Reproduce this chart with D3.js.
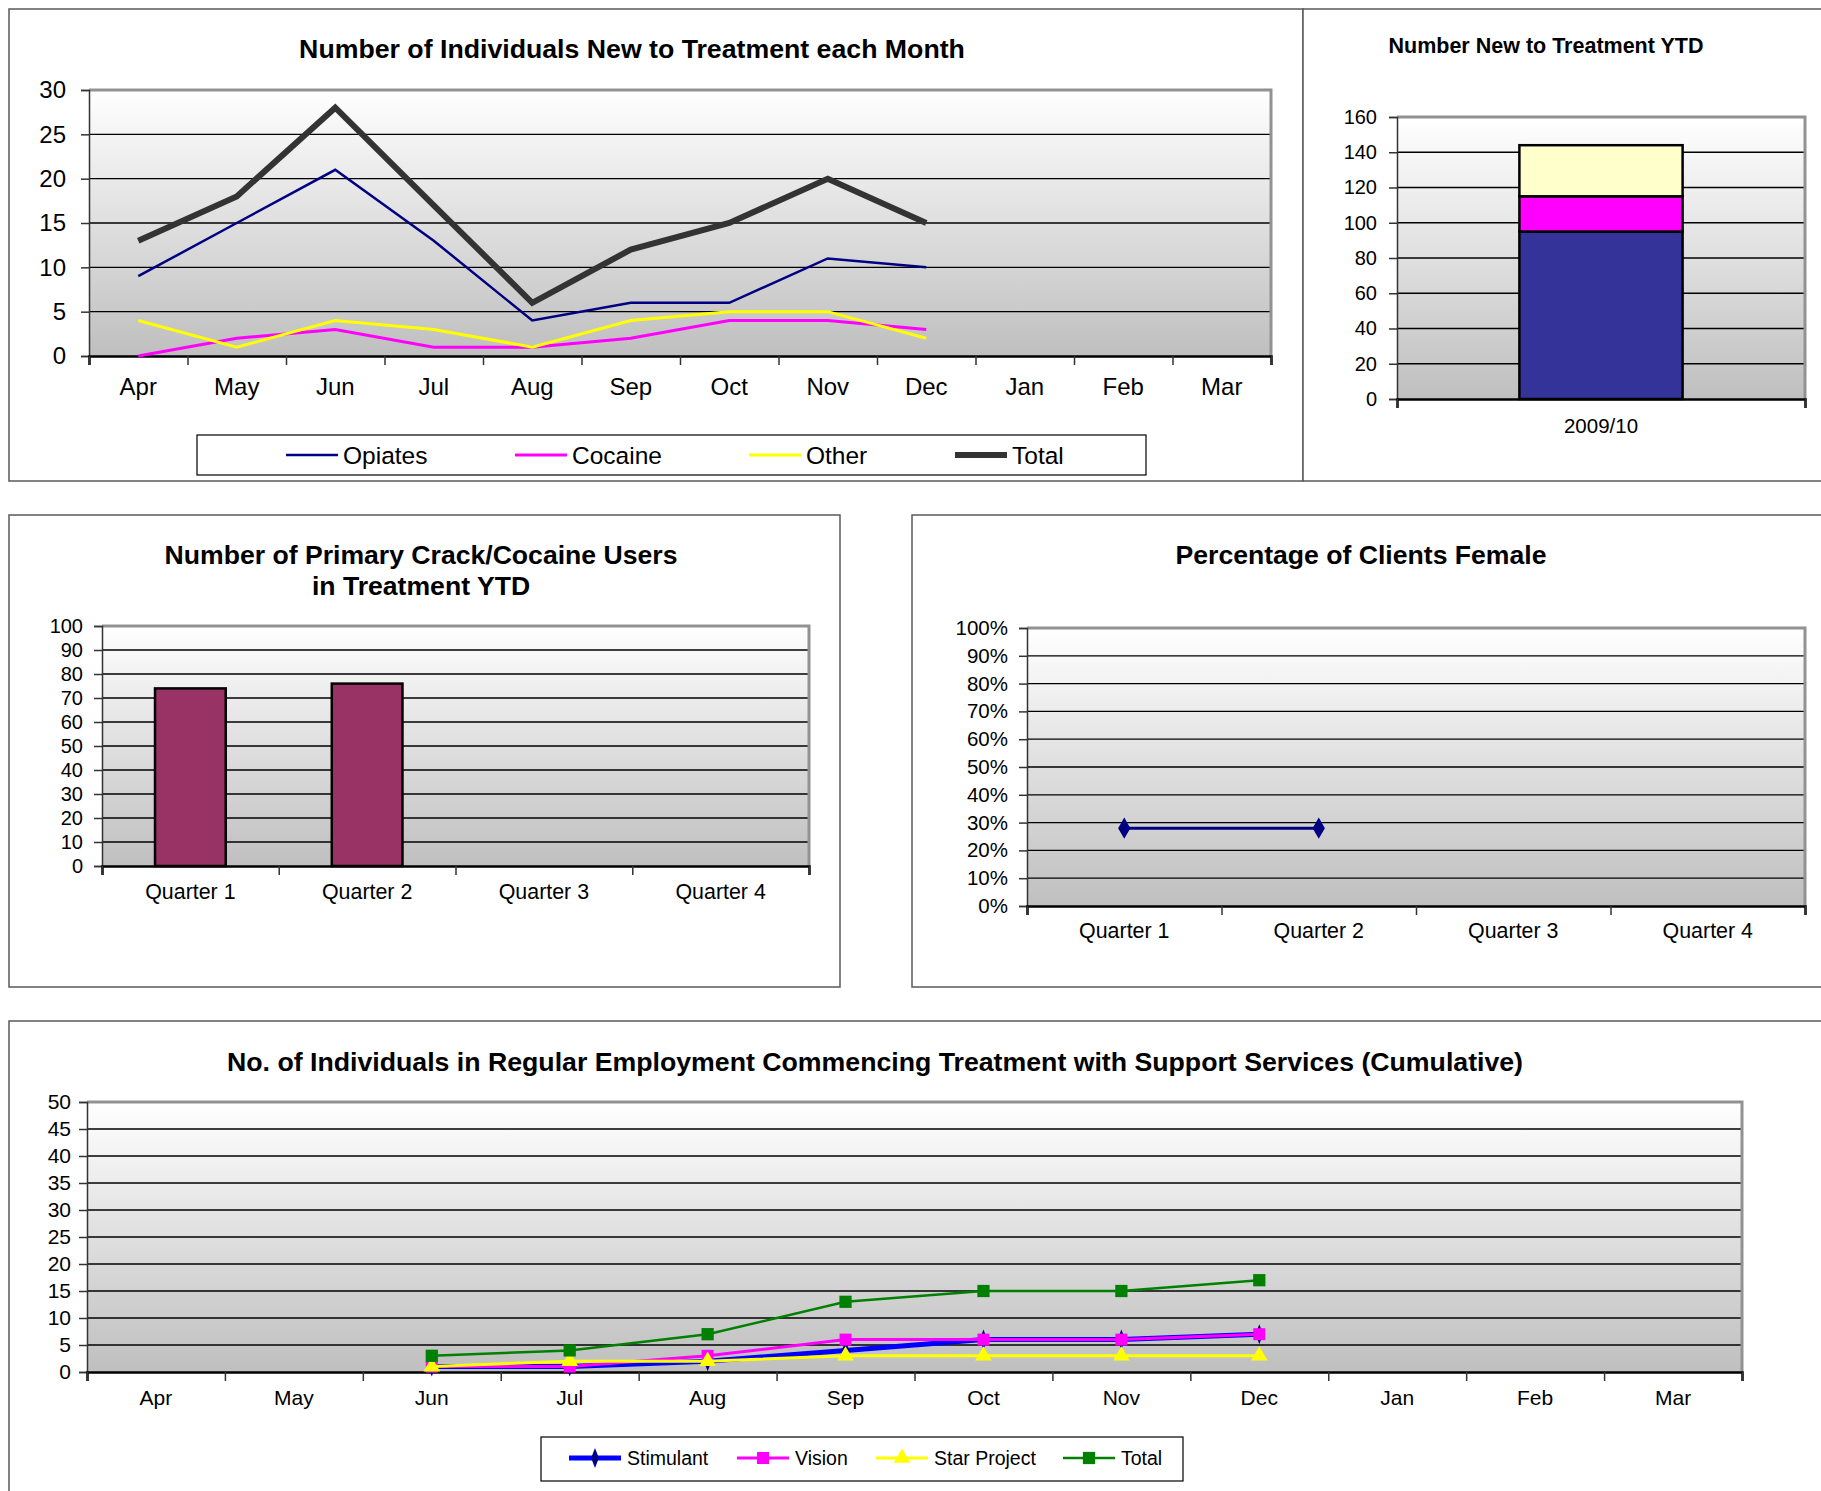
<!DOCTYPE html>
<html>
<head>
<meta charset="utf-8">
<script src="https://cdn.jsdelivr.net/npm/d3@7"></script>
<style>
  html, body { margin: 0; padding: 0; background: #ffffff; }
  svg { display: block; font-family: "Liberation Sans", Arial, sans-serif; }
</style>
</head>
<body>
<svg id="chart" width="1821" height="1491"></svg>
<script>
// ---------------- DATA ----------------
const months = ["Apr", "May", "Jun", "Jul", "Aug", "Sep", "Oct", "Nov", "Dec", "Jan", "Feb", "Mar"];
const opiates = [9, 15, 21, 13, 4, 6, 6, 11, 10];
const cocaine = [0, 2, 3, 1, 1, 2, 4, 4, 3];
const other   = [4, 1, 4, 3, 1, 4, 5, 5, 2];
const total   = [13, 18, 28, 17, 6, 12, 15, 20, 15];
const newTicks = [0, 5, 10, 15, 20, 25, 30];

const ytdCategories = ["2009/10"];
const ytdOpiates = [95];
const ytdCocaine = [20];
const ytdOther   = [29];
const ytdTicks = [0, 20, 40, 60, 80, 100, 120, 140, 160];

const quarters = ["Quarter 1", "Quarter 2", "Quarter 3", "Quarter 4"];
const crackUsers = [74, 76];
const crackTicks = [0, 10, 20, 30, 40, 50, 60, 70, 80, 90, 100];

const femalePct = [0.28, 0.28];
const pctTicks = [0, 0.1, 0.2, 0.3, 0.4, 0.5, 0.6, 0.7, 0.8, 0.9, 1.0];

const stimulant   = [null, null, 1, 1, 2, 4, 6, 6, 7];
const vision      = [null, null, 1, 1, 3, 6, 6, 6, 7];
const starProject = [null, null, 1, 2, 2, 3, 3, 3, 3];
const empTotal    = [null, null, 3, 4, 7, 13, 15, 15, 17];
const empTicks = [0, 5, 10, 15, 20, 25, 30, 35, 40, 45, 50];

// ---------------- HELPERS ----------------
const svg = d3.select("#chart");
const defs = svg.append("defs");
const grad = defs.append("linearGradient").attr("id", "plotGrad")
  .attr("x1", 0).attr("y1", 0).attr("x2", 0).attr("y2", 1);
grad.append("stop").attr("offset", "0%").attr("stop-color", "#ffffff");
grad.append("stop").attr("offset", "100%").attr("stop-color", "#bfbfbf");

function panel(x0, y0, x1, y1) {
  svg.append("rect").attr("x", x0).attr("y", y0).attr("width", x1 - x0).attr("height", y1 - y0)
    .attr("fill", "#ffffff").attr("stroke", "#5a5a5a").attr("stroke-width", 1.5);
}

function title(lines, cx, baseline, size, lh) {
  lines.forEach((t, i) => {
    svg.append("text").attr("x", cx).attr("y", baseline + i * (lh || 0))
      .attr("text-anchor", "middle").attr("font-weight", "bold")
      .attr("font-size", size).attr("fill", "#000").text(t);
  });
}

// plot area with gradient, gridlines, axes
function plotArea(opts) {
  const { x, y, ticks, fmt, fontY, fontX, padX, yPad } = opts;
  const [xa, xb] = x.range();
  const [yb, ya] = y.range();
  const g = svg.append("g");
  g.append("rect").attr("x", xa).attr("y", ya).attr("width", xb - xa).attr("height", yb - ya)
    .attr("fill", "url(#plotGrad)");
  g.selectAll("line.grid").data(ticks.slice(1, -1)).join("line")
    .attr("x1", xa).attr("x2", xb).attr("y1", d => y(d)).attr("y2", d => y(d))
    .attr("stroke", "#000").attr("stroke-width", 1.3);
  g.append("path").attr("d", `M${xa},${ya}H${xb}V${yb}`)
    .attr("fill", "none").attr("stroke", "#929292").attr("stroke-width", 3);
  const ay = g.append("g").attr("transform", `translate(${xa},0)`)
    .call(d3.axisLeft(y).tickValues(ticks).tickSize(8).tickPadding(yPad || 15)
      .tickFormat(fmt || d3.format("d")));
  ay.select(".domain").attr("stroke", "#333").attr("stroke-width", 1.5);
  ay.selectAll(".tick line").attr("stroke", "#333").attr("stroke-width", 1.5);
  ay.selectAll("text").attr("font-size", fontY).attr("fill", "#000")
    .attr("font-family", "Liberation Sans, Arial, sans-serif");
  const ax = g.append("g").attr("transform", `translate(0,${yb})`)
    .call(d3.axisBottom(x).tickSize(0).tickPadding(padX));
  ax.select(".domain").remove();
  ax.selectAll("text").attr("font-size", fontX).attr("fill", "#000")
    .attr("font-family", "Liberation Sans, Arial, sans-serif");
  const bounds = x.domain().map(d => x(d)).concat([xb]);
  const ab = g.append("g").attr("transform", `translate(0,${yb})`)
    .call(d3.axisBottom(d3.scaleLinear().domain([xa, xb]).range([xa, xb]))
      .tickValues(bounds).tickSize(9).tickFormat(""));
  ab.select(".domain").attr("stroke", "#000").attr("stroke-width", 2.5);
  ab.selectAll(".tick line").attr("stroke", "#333").attr("stroke-width", 1.5);
  return g;
}

function centerX(x) { return d => x(d) + x.bandwidth() / 2; }

// ---------------- PANEL 1 ----------------
panel(9, 9, 1303, 481);
panel(1303, 9, 1830, 481);
title(["Number of Individuals New to Treatment each Month"], 632, 58, 26.7);

{
  const x = d3.scaleBand().domain(months).range([89, 1271]);
  const y = d3.scaleLinear().domain([0, 30]).range([356, 90]);
  plotArea({ x, y, ticks: newTicks, fontY: 24, fontX: 24, padX: 22, yPad: 15 });
  const cx = centerX(x);
  const series = [
    { name: "Opiates", vals: opiates, color: "#000080", w: 2.5 },
    { name: "Cocaine", vals: cocaine, color: "#ff00ff", w: 3 },
    { name: "Other",   vals: other,   color: "#ffff00", w: 3 },
    { name: "Total",   vals: total,   color: "#333333", w: 6 }
  ];
  const line = d3.line().x((d, i) => cx(months[i])).y(d => y(d));
  series.forEach(s => {
    svg.append("path").datum(s.vals).attr("d", line).attr("fill", "none")
      .attr("stroke", s.color).attr("stroke-width", s.w).attr("stroke-linejoin", "miter");
  });
  svg.append("rect").attr("x", 197).attr("y", 435).attr("width", 949).attr("height", 40)
    .attr("fill", "#fff").attr("stroke", "#000").attr("stroke-width", 1.2);
  const lx = [286, 515, 749, 955];
  series.forEach((s, i) => {
    svg.append("line").attr("x1", lx[i]).attr("x2", lx[i] + 52).attr("y1", 455).attr("y2", 455)
      .attr("stroke", s.color).attr("stroke-width", s.w);
    svg.append("text").attr("x", lx[i] + 57).attr("y", 455).attr("dy", "0.35em")
      .attr("font-size", 24.5).attr("fill", "#000").text(s.name);
  });
}

// ---------------- PANEL 2 ----------------
title(["Number New to Treatment YTD"], 1546, 53, 21.5);
{
  const x = d3.scaleBand().domain(ytdCategories).range([1397, 1805]);
  const y = d3.scaleLinear().domain([0, 160]).range([399, 117]);
  plotArea({ x, y, ticks: ytdTicks, fontY: 20, fontX: 20.5, padX: 19, yPad: 12 });
  const stackData = ytdCategories.map((c, i) => ({ cat: c, Opiates: ytdOpiates[i], Cocaine: ytdCocaine[i], Other: ytdOther[i] }));
  const stack = d3.stack().keys(["Opiates", "Cocaine", "Other"])(stackData);
  const colors = { Opiates: "#333399", Cocaine: "#ff00ff", Other: "#ffffcc" };
  const bw = x.bandwidth();
  stack.forEach(layer => {
    svg.selectAll(null).data(layer).join("rect")
      .attr("x", d => x(d.data.cat) + bw * 0.3)
      .attr("width", bw * 0.4)
      .attr("y", d => y(d[1]))
      .attr("height", d => y(d[0]) - y(d[1]))
      .attr("fill", colors[layer.key]).attr("stroke", "#000").attr("stroke-width", 2.5);
  });
}

// ---------------- PANEL 3 ----------------
panel(9, 515, 840, 987);
title(["Number of Primary Crack/Cocaine Users", "in Treatment YTD"], 421, 564, 26.6, 31);
{
  const x = d3.scaleBand().domain(quarters).range([102, 809]);
  const y = d3.scaleLinear().domain([0, 100]).range([866, 626]);
  plotArea({ x, y, ticks: crackTicks, fontY: 20, fontX: 21.4, padX: 18, yPad: 11 });
  const bw = x.bandwidth();
  svg.selectAll(null).data(crackUsers).join("rect")
    .attr("x", (d, i) => x(quarters[i]) + bw * 0.3)
    .attr("width", bw * 0.4)
    .attr("y", d => y(d))
    .attr("height", d => y(0) - y(d))
    .attr("fill", "#993366").attr("stroke", "#000").attr("stroke-width", 2.5);
}

// ---------------- PANEL 4 ----------------
panel(912, 515, 1830, 987);
title(["Percentage of Clients Female"], 1361, 564, 26.6);
{
  const x = d3.scaleBand().domain(quarters).range([1027, 1805]);
  const y = d3.scaleLinear().domain([0, 1]).range([906, 628]);
  plotArea({ x, y, ticks: pctTicks, fmt: d3.format(".0%"), fontY: 20.5, fontX: 21.4, padX: 17, yPad: 11 });
  const cx = centerX(x);
  const line = d3.line().x((d, i) => cx(quarters[i])).y(d => y(d));
  svg.append("path").datum(femalePct).attr("d", line).attr("fill", "none")
    .attr("stroke", "#000080").attr("stroke-width", 3);
  svg.selectAll(null).data(femalePct).join("path")
    .attr("d", d3.symbol(d3.symbolDiamond, 130))
    .attr("transform", (d, i) => `translate(${cx(quarters[i])},${y(d)}) scale(1,1)`)
    .attr("fill", "#000080");
}

// ---------------- PANEL 5 ----------------
panel(9, 1021, 1830, 1500);
title(["No. of Individuals in Regular Employment Commencing Treatment with Support Services (Cumulative)"], 875, 1071, 26.7);
{
  const x = d3.scaleBand().domain(months).range([87, 1742]);
  const y = d3.scaleLinear().domain([0, 50]).range([1372, 1102]);
  plotArea({ x, y, ticks: empTicks, fontY: 21, fontX: 21, padX: 18, yPad: 8 });
  const cx = centerX(x);
  const series = [
    { name: "Stimulant",    vals: stimulant,   color: "#0000ff", w: 5, mk: d3.symbolDiamond, mfill: "#000080", msize: 80, sx: 0.8, sy: 1.2 },
    { name: "Vision",       vals: vision,      color: "#ff00ff", w: 3, mk: d3.symbolSquare,  mfill: "#ff00ff", msize: 144, sx: 1, sy: 1 },
    { name: "Star Project", vals: starProject, color: "#ffff00", w: 3, mk: d3.symbolTriangle, mfill: "#ffff00", msize: 120, sx: 1, sy: 1 },
    { name: "Total",        vals: empTotal,    color: "#008000", w: 2.5, mk: d3.symbolSquare, mfill: "#008000", msize: 150, sx: 1, sy: 1 }
  ];
  const line = d3.line().defined(d => d != null).x((d, i) => cx(months[i])).y(d => y(d));
  series.forEach(s => {
    svg.append("path").datum(s.vals).attr("d", line).attr("fill", "none")
      .attr("stroke", s.color).attr("stroke-width", s.w);
    const pts = s.vals.map((v, i) => ({ v, i })).filter(p => p.v != null);
    svg.selectAll(null).data(pts).join("path")
      .attr("d", d3.symbol(s.mk, s.msize))
      .attr("transform", p => `translate(${cx(months[p.i])},${y(p.v)}) scale(${s.sx},${s.sy})`)
      .attr("fill", s.mfill);
  });
  svg.append("rect").attr("x", 541).attr("y", 1437).attr("width", 642).attr("height", 44)
    .attr("fill", "#fff").attr("stroke", "#000").attr("stroke-width", 1.2);
  const lx = [569, 737, 876, 1063];
  series.forEach((s, i) => {
    svg.append("line").attr("x1", lx[i]).attr("x2", lx[i] + 52).attr("y1", 1458).attr("y2", 1458)
      .attr("stroke", s.color).attr("stroke-width", s.w);
    svg.append("path").attr("d", d3.symbol(s.mk, s.msize))
      .attr("transform", `translate(${lx[i] + 26},1458) scale(${s.sx},${s.sy})`).attr("fill", s.mfill);
    svg.append("text").attr("x", lx[i] + 58).attr("y", 1458).attr("dy", "0.35em")
      .attr("font-size", 19.5).attr("fill", "#000").text(s.name);
  });
}
</script>
</body>
</html>
